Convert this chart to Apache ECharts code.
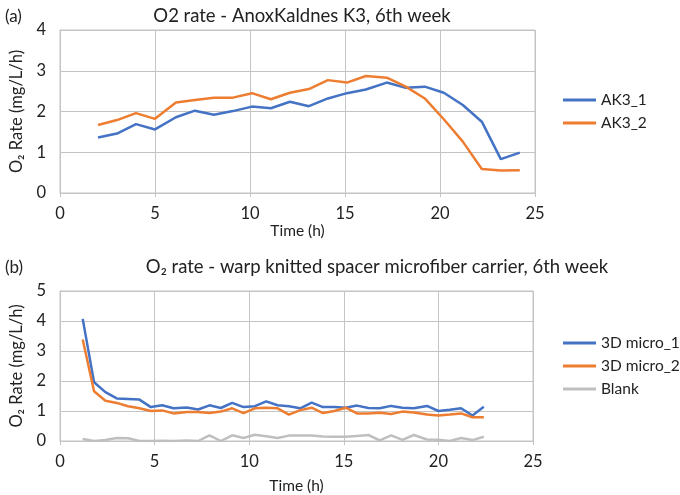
<!DOCTYPE html>
<html>
<head>
<meta charset="utf-8">
<script src="https://cdn.jsdelivr.net/npm/echarts@6/dist/echarts.min.js"></script>
<style>
  html, body { margin: 0; padding: 0; background: #fff; }
  #chart { width: 680px; height: 495px; }
</style>
</head>
<body>
<div id="chart"></div>
<script>
// (a) AnoxKaldnes K3
var timeA = [2.0, 3.0, 4.0, 5.0, 6.1, 7.1, 8.1, 9.1, 10.1, 11.1, 12.1, 13.1, 14.1, 15.1, 16.1, 17.2, 18.2, 19.2, 20.2, 21.2, 22.2, 23.2, 24.2];
var ak3_1 = [1.36, 1.46, 1.69, 1.56, 1.86, 2.02, 1.92, 2.01, 2.12, 2.08, 2.24, 2.13, 2.32, 2.45, 2.54, 2.71, 2.58, 2.61, 2.46, 2.16, 1.75, 0.83, 0.99];
var ak3_2 = [1.67, 1.79, 1.96, 1.82, 2.22, 2.28, 2.34, 2.34, 2.45, 2.30, 2.46, 2.55, 2.77, 2.71, 2.87, 2.83, 2.61, 2.32, 1.81, 1.26, 0.59, 0.55, 0.56];

// (b) warp knitted spacer microfiber carrier
var timeB = [1.2, 1.8, 2.4, 3.0, 3.6, 4.2, 4.8, 5.4, 6.0, 6.7, 7.3, 7.9, 8.5, 9.1, 9.7, 10.3, 10.9, 11.5, 12.1, 12.7, 13.3, 13.9, 14.5, 15.1, 15.7, 16.3, 16.9, 17.5, 18.1, 18.7, 19.4, 20.0, 20.6, 21.2, 21.8, 22.4];
var micro_1 = [4.07, 1.96, 1.63, 1.42, 1.40, 1.38, 1.13, 1.19, 1.09, 1.12, 1.05, 1.19, 1.10, 1.27, 1.13, 1.16, 1.32, 1.19, 1.16, 1.09, 1.28, 1.13, 1.13, 1.11, 1.18, 1.10, 1.09, 1.17, 1.11, 1.09, 1.17, 1.00, 1.04, 1.09, 0.85, 1.14];
var micro_2 = [3.38, 1.66, 1.34, 1.27, 1.16, 1.09, 1.00, 1.02, 0.92, 0.97, 0.97, 0.93, 0.98, 1.09, 0.93, 1.09, 1.11, 1.09, 0.88, 1.03, 1.11, 0.93, 1.00, 1.11, 0.92, 0.92, 0.94, 0.90, 0.98, 0.95, 0.88, 0.85, 0.88, 0.92, 0.79, 0.79];
var blank = [0.07, 0.00, 0.03, 0.10, 0.09, 0.00, 0.00, 0.01, 0.00, 0.02, 0.00, 0.19, 0.00, 0.19, 0.10, 0.21, 0.16, 0.10, 0.18, 0.18, 0.18, 0.15, 0.14, 0.14, 0.17, 0.20, 0.02, 0.19, 0.04, 0.20, 0.05, 0.04, 0.00, 0.10, 0.03, 0.14];

var FONT = 'Lato';
var gridColor = '#c4c4c4';

function pairs(xs, ys) {
    return xs.map(function(x, i) { return [x, ys[i]]; });
}

function xAxisCfg(gridIndex, gap) {
    return {
        type: 'value', gridIndex: gridIndex, min: 0, max: 25, interval: 5,
        name: 'Time (h)', nameLocation: 'middle', nameGap: gap,
        nameTextStyle: { fontFamily: FONT, fontSize: 15.5, color: '#222' },
        axisLine: { show: true, lineStyle: { color: gridColor } },
        axisTick: { show: true, length: 4, lineStyle: { color: gridColor } },
        axisLabel: { fontFamily: FONT, fontSize: 16.5, color: '#222', margin: 12 },
        splitLine: { show: true, lineStyle: { color: gridColor, width: 1 } }
    };
}

function yAxisCfg(gridIndex, max) {
    return {
        type: 'value', gridIndex: gridIndex, min: 0, max: max, interval: 1,
        name: 'O\u2082 Rate (mg/L/h)', nameLocation: 'middle', nameGap: 35,
        nameTextStyle: { fontFamily: FONT, fontSize: 16.5, color: '#222' },
        axisLine: { show: true, lineStyle: { color: gridColor } },
        axisTick: { show: false },
        axisLabel: { fontFamily: FONT, fontSize: 16.5, color: '#222', margin: 14 },
        splitLine: { show: true, lineStyle: { color: gridColor, width: 1 } }
    };
}

function lineSeries(name, xi, data, color) {
    return {
        name: name, type: 'line', xAxisIndex: xi, yAxisIndex: xi,
        data: data, showSymbol: false, symbol: 'none',
        lineStyle: { color: color, width: 2.5 },
        itemStyle: { color: color },
        animation: false
    };
}

var legendCommon = {
    orient: 'vertical', icon: 'rect', itemWidth: 33, itemHeight: 3, itemGap: 7,
    textStyle: { fontFamily: FONT, fontSize: 15.5, color: '#222', width: 120, overflow: 'none' }
};

var chart = echarts.init(document.getElementById('chart'));
var option = {
    backgroundColor: '#fff',
    animation: false,
    title: [
        { text: 'O2 rate - AnoxKaldnes K3, 6th week', left: 297, top: 2, textAlign: 'center',
          textStyle: { fontFamily: FONT, fontSize: 18.5, fontWeight: 'normal', color: '#222' } },
        { text: 'O\u2082 rate - warp knitted spacer microfiber carrier, 6th week', left: 372, top: 253, textAlign: 'center',
          textStyle: { fontFamily: FONT, fontSize: 18.5, fontWeight: 'normal', color: '#222' } },
        { text: '(a)', left: 0, top: 3, textStyle: { fontFamily: FONT, fontSize: 17, fontWeight: 'normal', color: '#222' } },
        { text: '(b)', left: 0, top: 254, textStyle: { fontFamily: FONT, fontSize: 17, fontWeight: 'normal', color: '#222' } }
    ],
    grid: [
        { left: 60, top: 30, width: 475, height: 163, show: true, borderColor: gridColor, borderWidth: 1 },
        { left: 58, top: 291, width: 475, height: 157, show: true, borderColor: gridColor, borderWidth: 1 }
    ],
    xAxis: [xAxisCfg(0, 30), xAxisCfg(1, 37)],
    yAxis: [yAxisCfg(0, 4), yAxisCfg(1, 5)],
    legend: [
        Object.assign({}, legendCommon, { data: ['AK3_1', 'AK3_2'], left: 563, top: 92, padding: 0 }),
        Object.assign({}, legendCommon, { data: ['3D micro_1', '3D micro_2', 'Blank'], left: 563, top: 335, padding: 0 })
    ],
    series: [
        lineSeries('AK3_1', 0, pairs(timeA, ak3_1), '#4472C4'),
        lineSeries('AK3_2', 0, pairs(timeA, ak3_2), '#ED7D31'),
        lineSeries('3D micro_1', 1, pairs(timeB, micro_1), '#4472C4'),
        lineSeries('3D micro_2', 1, pairs(timeB, micro_2), '#ED7D31'),
        lineSeries('Blank', 1, pairs(timeB, blank), '#BFBFBF')
    ]
};
chart.setOption(option);
</script>
</body>
</html>
